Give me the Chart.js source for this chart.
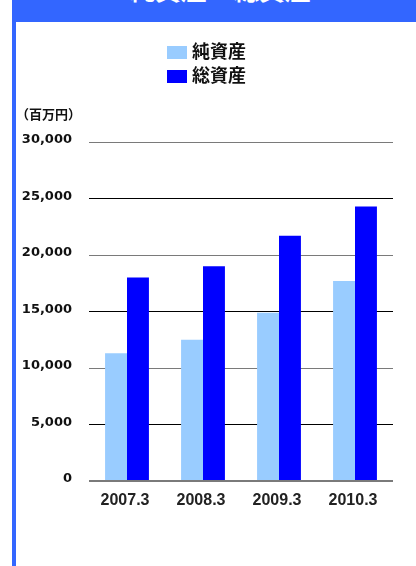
<!DOCTYPE html>
<html>
<head>
<meta charset="utf-8">
<script src="https://cdn.jsdelivr.net/npm/chart.js@4.4.1/dist/chart.umd.min.js"></script>
<style>
  html, body { margin: 0; padding: 0; background: #fff; width: 416px; height: 566px; overflow: hidden; }
  #wrap { position: relative; width: 416px; height: 566px; }
  #border { position: absolute; left: 12px; top: 0; width: 4px; height: 566px; background: #3366ff; }
  #header { position: absolute; left: 12px; top: 0; width: 404px; height: 22px; background: #3366ff; overflow: hidden; }
  #title { position: absolute; left: 103px; width: 210px; top: -24px; line-height: 26px; font-size: 26px; font-weight: bold; color: #fff; text-align: center; font-family: "Noto Sans CJK JP", sans-serif; white-space: nowrap; }
  #legend { position: absolute; left: 167px; top: 38px; font-family: "Noto Sans CJK JP", sans-serif; font-weight: bold; font-size: 18px; color: #111; }
  .item { height: 24px; line-height: 24px; position: relative; white-space: nowrap; }
  .sw { display: inline-block; width: 20px; height: 13px; vertical-align: middle; margin-right: 5px; position: relative; top: -1px; }
  #unit { position: absolute; left: 16px; top: 106px; font-family: "Noto Sans CJK JP", sans-serif; font-weight: bold; font-size: 13px; line-height: 16px; color: #111; }
  canvas { position: absolute; left: 0; top: 0; }
</style>
</head>
<body>
<div id="wrap">
  <canvas id="c" width="416" height="566"></canvas>
  <div id="border"></div>
  <div id="header"><div id="title">純資産・総資産</div></div>
  <div id="legend"></div>
  <div id="unit">（百万円）</div>
</div>
<script>
const categories = ["2007.3", "2008.3", "2009.3", "2010.3"];
const seriesNames = ["純資産", "総資産"];
const netAssets = [11300, 12500, 14900, 17700];
const totalAssets = [18000, 19000, 21700, 24300];
const seriesColors = ["#99ccff", "#0000ff"];
const yTicks = [0, 5000, 10000, 15000, 20000, 25000, 30000];

// HTML legend
const lg = document.getElementById('legend');
seriesNames.forEach((n, i) => {
  const d = document.createElement('div');
  d.className = 'item';
  d.innerHTML = '<span class="sw" style="background:' + seriesColors[i] + '"></span>' + n;
  lg.appendChild(d);
});

new Chart(document.getElementById('c'), {
  type: 'bar',
  data: {
    labels: categories,
    datasets: [
      { label: seriesNames[0], data: netAssets, backgroundColor: seriesColors[0], borderWidth: 0 },
      { label: seriesNames[1], data: totalAssets, backgroundColor: seriesColors[1], borderWidth: 0 }
    ]
  },
  options: {
    responsive: false,
    animation: false,
    devicePixelRatio: 1,
    layout: { padding: { top: 142, left: 0, right: 23, bottom: 0 } },
    plugins: { legend: { display: false }, tooltip: { enabled: false }, title: { display: false } },
    datasets: { bar: { categoryPercentage: 0.577, barPercentage: 1.0 } },
    scales: {
      x: {
        grid: { display: false },
        border: { display: false },
        ticks: {
          color: '#222',
          padding: 2,
          labelOffset: -2,
          maxRotation: 0,
          font: { family: '"Liberation Sans", Arial, sans-serif', size: 16, weight: 'bold' }
        },
        afterFit: (s) => { s.height = 85; }
      },
      y: {
        min: 0,
        max: 30000,
        afterBuildTicks: (s) => { s.ticks = yTicks.map(v => ({ value: v })); },
        grid: {
          drawTicks: false,
          color: (ctx) => {
            const v = ctx.tick ? ctx.tick.value : 0;
            return (v / 5000) % 2 === 1 ? '#000000' : '#7a7a7a';
          },
          lineWidth: (ctx) => (ctx.tick && ctx.tick.value === 0) ? 2 : 1
        },
        border: { display: false },
        ticks: {
          color: '#111',
          padding: 17,
          labelOffset: -2,
          font: { family: '"DejaVu Sans", sans-serif', size: 13, weight: 'bold' },
          callback: (v) => Number(v).toLocaleString('en-US')
        },
        afterFit: (s) => { s.width = 89; }
      }
    }
  }
});
</script>
</body>
</html>
